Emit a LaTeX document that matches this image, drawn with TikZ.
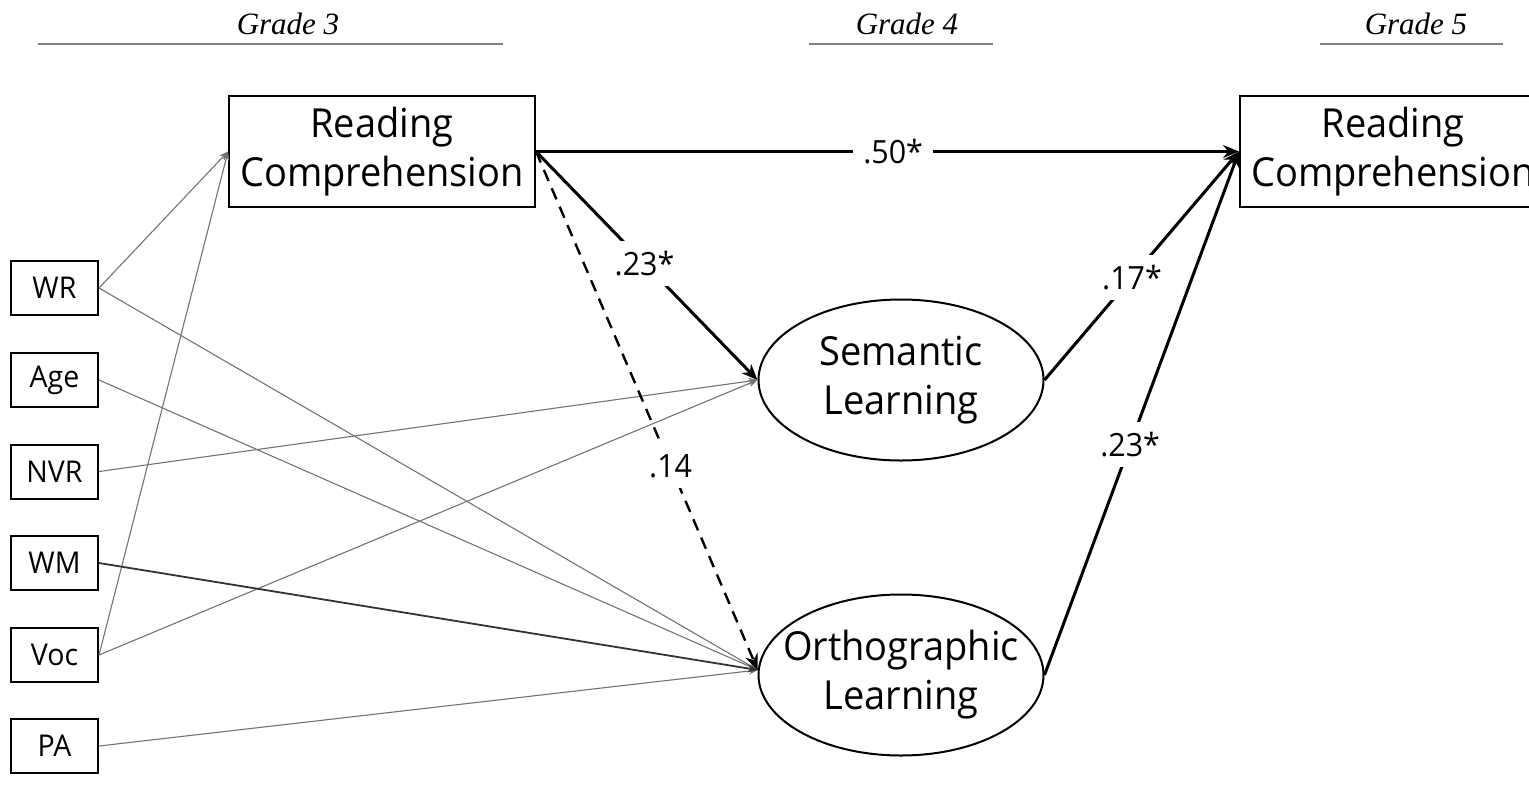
\documentclass[tikz,border=0pt]{standalone}
\usepackage{fontspec}
\setmainfont{Open Sans}
\newfontfamily\diagfont[FakeStretch=0.95]{Open Sans}
\newfontfamily\gradefont{Liberation Serif}
\usetikzlibrary{shapes.geometric,arrows.meta}
\begin{document}
\begin{tikzpicture}[x=1pt,y=-1pt,
  bigbox/.style={draw, line width=2pt, minimum width=306pt, minimum height=111pt, inner sep=0pt, align=center, font=\diagfont\fontsize{40}{49}\selectfont},
  smallbox/.style={draw, line width=2pt, minimum width=87pt, minimum height=54pt, inner sep=0pt, font=\diagfont\fontsize{30}{35}\selectfont},
  latent/.style={draw, ellipse, line width=2pt, minimum width=285pt, minimum height=161pt, inner sep=0pt},
  latenttext/.style={align=center, font=\diagfont\fontsize{40}{49}\selectfont},
  thinpath/.style={draw=black!55, line width=1.1pt, -{Stealth[length=9pt,width=7pt]}},
  wmpath/.style={draw=black!80, line width=1.8pt, -{Stealth[length=10pt,width=8pt]}},
  mainpath/.style={draw=black, line width=3pt, -{Stealth[length=16pt,width=13pt]}},
  dashpath/.style={mainpath, line width=2.4pt, dash pattern=on 12pt off 8pt},
  coef/.style={fill=white, inner sep=10pt, font=\diagfont\fontsize{32}{36}\selectfont},
  gradetext/.style={font=\gradefont\itshape\fontsize{31}{36}\selectfont, anchor=base},
  graderule/.style={draw=black!50, line width=1.8pt}
]
\useasboundingbox (0,0) rectangle (1529,793);
\clip (0,0) rectangle (1529,793);

% grade headers
\node[gradetext] (g3) at (288,34) {Grade 3};
\node[gradetext] (g4) at (907,34) {Grade 4};
\node[gradetext] (g5) at (1416,34) {Grade 5};
\draw[graderule] (38,44) -- (503,44);
\draw[graderule] (809,44) -- (993,44);
\draw[graderule] (1320,44) -- (1503,44);

% main nodes
\node[bigbox] (rc1) at (382,151.5) {Reading\\Comprehension};
\node[bigbox] (rc2) at (1393,151.5) {Reading\\Comprehension};
\node[latent] (sem) at (901,380) {};
\node[latenttext] (semt) at (sem.center) {Semantic\\Learning};
\node[latent] (orth) at (901,675) {};
\node[latenttext] (ortht) at (orth.center) {Orthographic\\Learning};

% covariates
\node[smallbox] (wr)  at (54.5,288) {WR};
\node[smallbox] (age) at (54.5,380) {Age};
\node[smallbox] (nvr) at (54.5,471.5) {NVR};
\node[smallbox] (wm)  at (54.5,563) {WM};
\node[smallbox] (voc) at (54.5,655) {Voc};
\node[smallbox] (pa)  at (54.5,746) {PA};

% control paths
\draw[thinpath] (wr.east) -- (rc1.west);
\draw[thinpath] (voc.east) -- (rc1.west);
\draw[thinpath] (wr.east) -- (orth.178);
\draw[thinpath] (age.east) -- (orth.178);
\draw[thinpath] (nvr.east) -- (sem.west);
\draw[thinpath] (voc.east) -- (sem.west);
\draw[thinpath] (pa.east) -- (orth.178);
\draw[wmpath] (wm.east) -- (orth.178);

% main paths
\draw[mainpath] (rc1.east) -- node[coef,pos=0.508] (c50) {.50*} (rc2.west);
\draw[mainpath] (rc1.east) -- node[coef,pos=0.49] (c23a) {.23*} (sem.west);
\draw[dashpath] (rc1.east) -- node[coef,pos=0.607] (c14) {.14} (orth.178);
\draw[mainpath] (sem.east) -- node[coef,pos=0.45] (c17) {.17*} (rc2.west);
\draw[mainpath] (orth.east) -- node[coef,pos=0.44] (c23b) {.23*} (rc2.west);
\end{tikzpicture}
\end{document}
